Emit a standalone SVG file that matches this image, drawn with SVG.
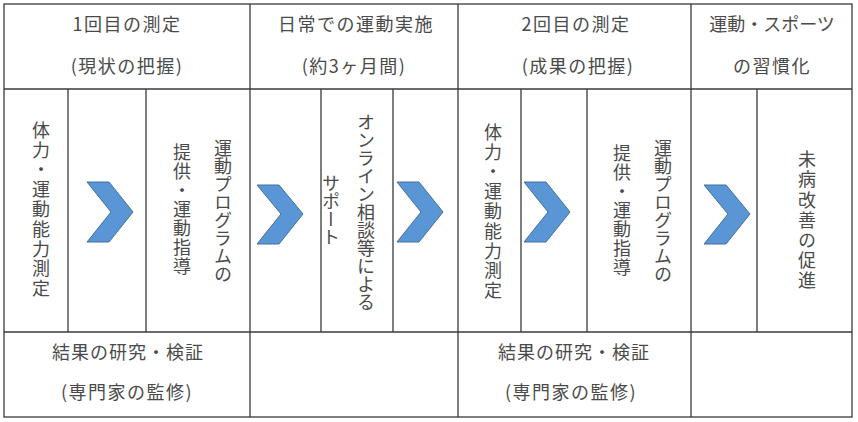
<svg xmlns="http://www.w3.org/2000/svg" width="858" height="422" viewBox="0 0 858 422">
<style>
  .grid line, .grid rect { stroke:#3a3a3a; stroke-width:1.3; fill:none; }
  text { font-family:"Noto Sans CJK JP","Noto Sans",sans-serif; font-size:18px; fill:#4a4a4a; }
  .h { text-anchor:middle; letter-spacing:1.5px; }
  .v { writing-mode:vertical-rl; text-anchor:middle; }
  .chev { fill:#5A96D6; stroke:#41719C; stroke-width:1; }
</style>
<rect x="0" y="0" width="858" height="422" fill="#ffffff"/>
<g class="grid" id="grid">
  <rect x="4" y="4" width="848" height="413"/>
  <line x1="4" y1="89" x2="852" y2="89"/>
  <line x1="4" y1="332" x2="852" y2="332"/>
  <line x1="250" y1="4" x2="250" y2="417"/>
  <line x1="458" y1="4" x2="458" y2="417"/>
  <line x1="691" y1="4" x2="691" y2="417"/>
  <line x1="68" y1="89" x2="68" y2="332"/>
  <line x1="146" y1="89" x2="146" y2="332"/>
  <line x1="321" y1="89" x2="321" y2="332"/>
  <line x1="393" y1="89" x2="393" y2="332"/>
  <line x1="521" y1="89" x2="521" y2="332"/>
  <line x1="587" y1="89" x2="587" y2="332"/>
  <line x1="757" y1="89" x2="757" y2="332"/>
</g>
<g id="header1"><text class="h" x="127" y="31">1回目の測定</text><text class="h" x="127" y="73">(現状の把握)</text></g>
<g id="header2"><text class="h" x="356" y="31">日常での運動実施</text><text class="h" x="354" y="73">(約3ヶ月間)</text></g>
<g id="header3"><text class="h" x="576" y="31">2回目の測定</text><text class="h" x="578" y="73">(成果の把握)</text></g>
<g id="header4"><text class="h" x="772" y="31" style="letter-spacing:0px">運動・スポーツ</text><text class="h" x="772" y="73">の習慣化</text></g>
<g id="measure1"><text class="v" x="41" y="210" style="letter-spacing:1.8px">体力・運動能力測定</text></g>
<g id="program1"><text class="v" x="223" y="211">運動プログラムの</text><text class="v" x="182" y="210" style="letter-spacing:1px">提供・運動指導</text></g>
<g id="support"><text class="v" x="366" y="212">オンライン相談等による</text><text class="v" x="331" y="210">サポート</text></g>
<g id="measure2"><text class="v" x="493" y="212" style="letter-spacing:1.8px">体力・運動能力測定</text></g>
<g id="program2"><text class="v" x="663" y="211">運動プログラムの</text><text class="v" x="622" y="211" style="letter-spacing:1px">提供・運動指導</text></g>
<g id="habit"><text class="v" x="807" y="221" style="letter-spacing:2.2px">未病改善の促進</text></g>
<g id="review1"><text class="h" x="128" y="359" style="letter-spacing:1px">結果の研究・検証</text><text class="h" x="127" y="399">(専門家の監修)</text></g>
<g id="review2"><text class="h" x="574" y="359" style="letter-spacing:1px">結果の研究・検証</text><text class="h" x="571" y="399">(専門家の監修)</text></g>
<g id="connectors">
  <polygon class="chev" points="87,182 109,182 133,212 109,242 87,242 111,212"/>
  <polygon class="chev" points="257,185 279,185 303,214 279,244 257,244 281,214"/>
  <polygon class="chev" points="397,182 419,182 443,212 419,242 397,242 421,212"/>
  <polygon class="chev" points="524,182 546,182 570,212 546,242 524,242 548,212"/>
  <polygon class="chev" points="704,185 726,185 750,214 726,244 704,244 728,214"/>
</g>
</svg>
